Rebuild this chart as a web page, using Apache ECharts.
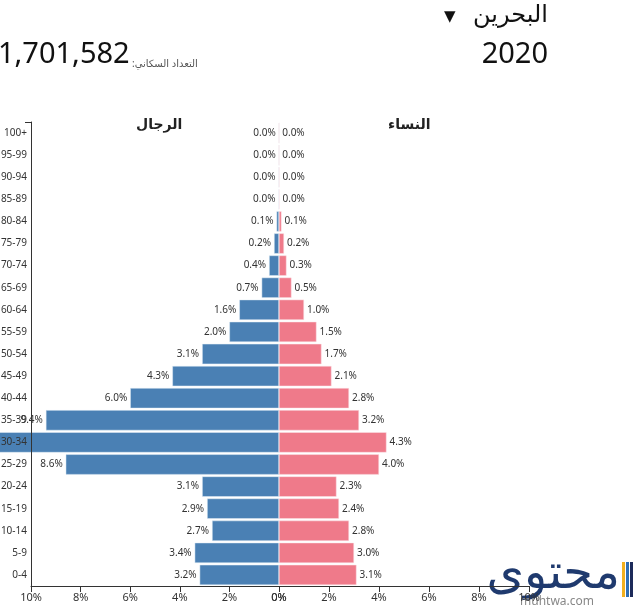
<!DOCTYPE html>
<html>
<head>
<meta charset="utf-8">
<script src="https://cdn.jsdelivr.net/npm/echarts@6/dist/echarts.min.js"></script>
<style>
  html, body { margin: 0; padding: 0; background: #ffffff; }
  #pyramid { width: 640px; height: 612px; }
</style>
</head>
<body>
<div id="pyramid"></div>
<script>
// الفئات العمرية من الأعلى إلى الأسفل
const ages = ['100+', '95-99', '90-94', '85-89', '80-84', '75-79', '70-74', '65-69', '60-64', '55-59',
  '50-54', '45-49', '40-44', '35-39', '30-34', '25-29', '20-24', '15-19', '10-14', '5-9', '0-4'];
// نسب الرجال والنساء (%)
const men = [0.0, 0.0, 0.01, 0.02, 0.1, 0.2, 0.4, 0.7, 1.6, 2.0,
  3.1, 4.3, 6.0, 9.4, 13.0, 8.6, 3.1, 2.9, 2.7, 3.4, 3.2];
const women = [0.0, 0.0, 0.01, 0.02, 0.1, 0.2, 0.3, 0.5, 1.0, 1.5,
  1.7, 2.1, 2.8, 3.2, 4.3, 4.0, 2.3, 2.4, 2.8, 3.0, 3.1];

const country = 'البحرين';
const year = '2020';
const total = '1,701,582';

let chart = echarts.init(document.getElementById('pyramid'));

const fontFam = '"Noto Sans", "DejaVu Sans", sans-serif';
const pct = v => (v * 1).toFixed(1) + '%';

const valueAxis = (idx, inv) => ({
  gridIndex: idx, type: 'value', inverse: inv, min: 0, max: 10, interval: 2,
  axisLine: { show: true, lineStyle: { color: '#333' } },
  axisTick: { show: true, length: 6, lineStyle: { color: '#333' } },
  axisLabel: { formatter: v => v + '%', color: '#333', fontSize: 11, margin: 6 },
  splitLine: { show: false }
});

chart.setOption({
  animation: false,
  textStyle: { fontFamily: fontFam },
  grid: [
    { left: 31, top: 122, width: 248, height: 464, outerBoundsMode: 'none', containLabel: false },
    { left: 279, top: 122, width: 250, height: 464, outerBoundsMode: 'none', containLabel: false }
  ],
  xAxis: [valueAxis(0, true), valueAxis(1, false)],
  yAxis: [
    {
      gridIndex: 0, type: 'category', data: ages, inverse: true, position: 'left', z: 10,
      axisLine: { show: true, onZero: false, lineStyle: { color: '#333', width: 1 } },
      axisTick: { show: false },
      axisLabel: { color: '#333', fontSize: 10, margin: 4 }
    },
    {
      gridIndex: 1, type: 'category', data: ages, inverse: true,
      axisLine: { show: false }, axisTick: { show: false }, axisLabel: { show: false }
    }
  ],
  series: [
    {
      name: 'الرجال', type: 'bar', xAxisIndex: 0, yAxisIndex: 0, data: men,
      barCategoryGap: '8%', clip: false, z: 1,
      itemStyle: { color: '#4a80b4', borderColor: '#e4eef7', borderWidth: 0.5 },
      label: {
        show: true, position: 'left', distance: 3, color: '#333', fontSize: 10,
        formatter: p => pct(p.value)
      }
    },
    {
      name: 'النساء', type: 'bar', xAxisIndex: 1, yAxisIndex: 1, data: women,
      barCategoryGap: '8%', clip: false, z: 1,
      itemStyle: { color: '#ef7a8a', borderColor: '#fbe4e8', borderWidth: 0.5 },
      label: {
        show: true, position: 'right', distance: 3, color: '#333', fontSize: 10,
        formatter: p => pct(p.value)
      }
    }
  ],
  graphic: [
    { type: 'text', right: 92, top: 3, style: { text: country, fontSize: 24, fill: '#111', fontFamily: fontFam } },
    { type: 'text', left: 444, top: 10, style: { text: '▼', fontSize: 15, fill: '#111', fontFamily: '"DejaVu Sans", sans-serif' } },
    { type: 'text', right: 92, top: 40, style: { text: year, fontSize: 29, fill: '#111', fontFamily: fontFam } },
    { type: 'text', left: -2, top: 40, style: { text: total, fontSize: 29, fill: '#111', fontFamily: fontFam } },
    { type: 'text', left: 132, top: 59, style: { text: ':التعداد السكاني', fontSize: 10, fill: '#555', fontFamily: fontFam } },
    { type: 'text', left: 136, top: 118, style: { text: 'الرجال', fontSize: 14, fontWeight: 'bold', fill: '#222', fontFamily: fontFam } },
    { type: 'text', left: 388, top: 118, style: { text: 'النساء', fontSize: 14, fontWeight: 'bold', fill: '#222', fontFamily: fontFam } },
    // خط المحور العمودي مع العلامة الخارجية العلوية
    { type: 'polyline', z: 100, shape: { points: [[25, 122.5], [31.5, 122.5], [31.5, 586]] }, style: { stroke: '#333', lineWidth: 1, fill: null } },
    // شعار الموقع
    { type: 'text', right: 20, top: 550, style: { text: 'محتوى', fontSize: 48, fill: '#1f3a6e', fontFamily: fontFam } },
    { type: 'text', left: 520, top: 596, style: { text: 'muhtwa.com', fontSize: 12, fill: '#888', fontFamily: fontFam } },
    { type: 'rect', shape: { x: 622, y: 562, width: 3, height: 35 }, style: { fill: '#f2b01e' } },
    { type: 'rect', shape: { x: 626, y: 562, width: 3, height: 35 }, style: { fill: '#2f6fb5' } },
    { type: 'rect', shape: { x: 630, y: 562, width: 3, height: 35 }, style: { fill: '#1c2a5a' } }
  ]
});
</script>
</body>
</html>
